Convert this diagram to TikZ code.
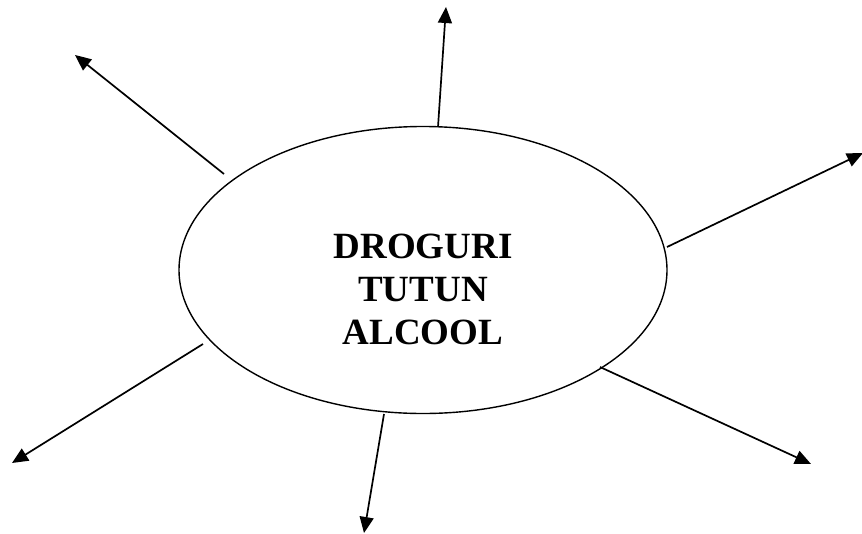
\documentclass[tikz,border=0pt]{standalone}
\usepackage{fontspec}
\setmainfont{Liberation Serif}
\usetikzlibrary{arrows.meta,shapes.geometric}
\begin{document}
\begin{tikzpicture}[x=1pt,y=-1pt,
  bubble/.style={draw,line width=1.4pt,ellipse,minimum width=488pt,minimum height=287pt,inner sep=0pt},
  arr/.style={line width=1.7pt,-{Triangle[length=16pt,width=14pt]}},
  label/.style={font=\fontsize{37}{43}\selectfont\bfseries,align=center}]
\useasboundingbox (0,0) rectangle (862,533);
\node[bubble] (e) at (423,270) {};
\node[label] (t) at (423,289) {DROGURI\\TUTUN\\ALCOOL};
\coordinate (s1) at (224,174); \coordinate (e1) at (75,55);
\coordinate (s2) at (438,127); \coordinate (e2) at (446,7);
\coordinate (s3) at (667,247); \coordinate (e3) at (863,153);
\coordinate (s4) at (203,344); \coordinate (e4) at (12,463);
\coordinate (s5) at (384,414); \coordinate (e5) at (364,533);
\coordinate (s6) at (600,367); \coordinate (e6) at (811,464);
\foreach \i in {1,...,6} \draw[arr] (s\i) -- (e\i);
\end{tikzpicture}
\end{document}
